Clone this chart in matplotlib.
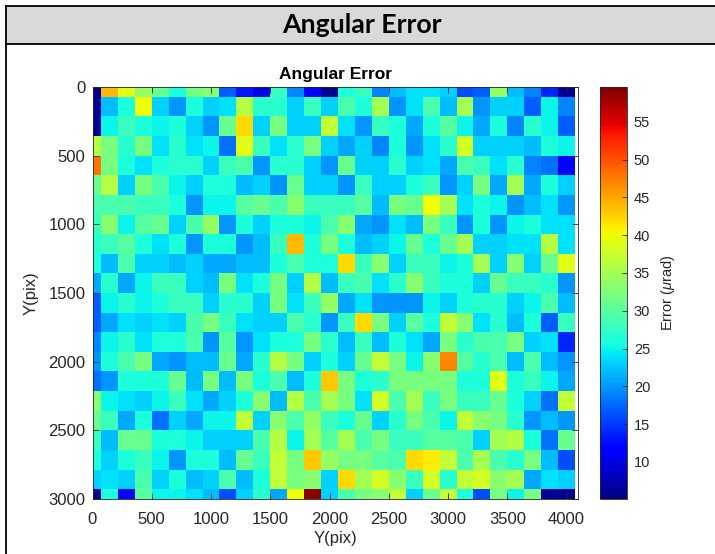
import numpy as np
import matplotlib
matplotlib.use('Agg')
import matplotlib.pyplot as plt
from matplotlib.patches import Rectangle

plt.rcParams['font.family'] = ['Liberation Sans', 'DejaVu Sans']
plt.rcParams['mathtext.fontset'] = 'custom'
plt.rcParams['mathtext.rm'] = 'Liberation Sans'
plt.rcParams['mathtext.it'] = 'Liberation Sans:italic'

# angular error per cell (urad), first row is Y=0 (top of the image)
err = np.array([
    [6, 44, 39, 34, 31, 26, 32, 33, 17, 13, 10, 28, 19, 12, 6, 26, 28, 19, 22, 24, 24, 23, 16, 17, 34, 22, 19, 14, 6],
    [6, 22, 26, 40, 23, 20, 26, 23, 24, 36, 27, 27, 23, 28, 23, 29, 26, 35, 20, 24, 29, 22, 35, 20, 23, 23, 17, 25, 19],
    [6, 25, 28, 26, 25, 26, 23, 20, 31, 42, 23, 32, 23, 23, 37, 24, 20, 28, 26, 21, 26, 30, 25, 21, 26, 19, 27, 25, 17],
    [36, 32, 27, 32, 24, 27, 24, 25, 18, 39, 28, 24, 27, 32, 23, 21, 23, 19, 26, 20, 24, 27, 38, 23, 23, 23, 22, 26, 25],
    [48, 32, 26, 24, 26, 27, 27, 23, 28, 29, 20, 27, 27, 23, 20, 31, 23, 23, 27, 23, 24, 21, 29, 28, 24, 27, 19, 18, 12],
    [31, 36, 23, 32, 29, 25, 23, 26, 26, 22, 23, 20, 31, 23, 23, 20, 28, 23, 23, 26, 28, 20, 23, 32, 21, 35, 21, 26, 23],
    [29, 29, 29, 28, 28, 26, 20, 25, 25, 30, 31, 29, 33, 28, 28, 28, 30, 22, 32, 31, 40, 35, 24, 26, 25, 20, 22, 24, 20],
    [28, 33, 25, 30, 31, 23, 29, 34, 20, 26, 23, 26, 26, 25, 29, 33, 21, 20, 24, 22, 32, 28, 20, 26, 20, 25, 26, 24, 24],
    [27, 28, 30, 26, 24, 26, 20, 26, 26, 20, 22, 28, 44, 26, 32, 26, 22, 23, 25, 31, 26, 31, 35, 23, 23, 24, 24, 36, 24],
    [26, 22, 29, 23, 23, 22, 23, 21, 21, 22, 22, 26, 29, 26, 26, 42, 28, 33, 23, 28, 28, 25, 26, 35, 23, 33, 23, 31, 39],
    [21, 27, 21, 25, 28, 28, 23, 22, 32, 24, 26, 32, 23, 36, 22, 28, 29, 24, 27, 33, 28, 26, 26, 23, 31, 28, 28, 27, 20],
    [17, 25, 27, 25, 26, 28, 28, 23, 27, 27, 23, 32, 24, 28, 34, 21, 24, 20, 20, 20, 25, 23, 26, 27, 27, 23, 25, 29, 22],
    [17, 21, 24, 23, 24, 23, 29, 32, 28, 24, 23, 23, 29, 27, 20, 28, 42, 32, 23, 30, 26, 37, 33, 24, 27, 22, 26, 17, 28],
    [19, 25, 27, 24, 26, 26, 29, 20, 30, 20, 24, 26, 26, 32, 27, 22, 28, 22, 26, 24, 21, 32, 27, 29, 29, 32, 23, 24, 14],
    [20, 26, 29, 32, 21, 20, 22, 22, 31, 21, 27, 36, 32, 23, 26, 23, 31, 37, 32, 25, 33, 47, 30, 27, 29, 22, 29, 22, 20],
    [18, 20, 26, 26, 26, 31, 22, 32, 22, 32, 26, 29, 22, 26, 43, 32, 26, 27, 32, 32, 32, 32, 26, 26, 39, 26, 28, 25, 21],
    [33, 25, 24, 23, 25, 28, 24, 21, 23, 26, 33, 22, 36, 29, 35, 32, 24, 38, 29, 35, 28, 32, 28, 28, 31, 26, 23, 18, 37],
    [31, 28, 21, 26, 18, 23, 21, 25, 25, 37, 23, 33, 29, 34, 28, 26, 31, 23, 27, 32, 29, 25, 37, 33, 32, 27, 20, 22, 20],
    [28, 22, 31, 31, 26, 26, 25, 23, 23, 23, 29, 36, 25, 35, 30, 35, 29, 32, 28, 28, 30, 30, 29, 23, 35, 36, 26, 18, 31],
    [26, 23, 26, 28, 25, 20, 26, 26, 22, 31, 28, 37, 32, 43, 34, 32, 32, 30, 29, 42, 41, 37, 29, 35, 29, 27, 32, 22, 16],
    [23, 24, 23, 29, 23, 26, 22, 23, 29, 22, 26, 37, 32, 33, 23, 42, 35, 38, 33, 28, 38, 27, 37, 38, 33, 35, 21, 24, 23],
    [6, 26, 11, 30, 25, 25, 24, 22, 16, 23, 27, 21, 40, 59, 23, 29, 32, 33, 37, 23, 31, 37, 26, 16, 32, 25, 32, 6, 6],
])
x_pix = np.linspace(0, 4000, 29)
y_pix = np.linspace(0, 3000, 22)
cb_ticks = [10, 15, 20, 25, 30, 35, 40, 45, 50, 55]

W, H = 715, 554
fig = plt.figure(figsize=(W / 100, H / 100), dpi=100)

# table frame around the picture (pixel coords)
bg = fig.add_axes([0, 0, 1, 1])
bg.set_xlim(0, W)
bg.set_ylim(H, 0)
bg.axis('off')
bg.add_patch(Rectangle((5.5, 5.5), W, 38, facecolor='#d9d9d9', edgecolor='none'))
bg.plot([5.5, W], [5.5, 5.5], color='black', lw=1.3)
bg.plot([5.5, W], [43.5, 43.5], color='black', lw=1.3)
bg.plot([5.5, 5.5], [5.5, H], color='black', lw=1.3)
bg.text(362, 25, 'Angular Error', ha='center', va='center', fontsize=19.3,
        fontweight='bold', family=['Lato', 'DejaVu Sans'])

gray = '#262626'
ax = fig.add_axes([92.5 / W, (H - 499) / H, 485.5 / W, 412 / H])
mesh = ax.pcolormesh(x_pix, y_pix, err, cmap='jet', vmin=5.1, vmax=59.6,
                     shading='nearest', edgecolors='none', antialiased=False)
ax.set_xlim(0, 4096)
ax.set_ylim(3000, 0)
ax.set_xticks(np.arange(0, 4001, 500))
ax.set_yticks(np.arange(0, 3001, 500))
ax.tick_params(direction='in', top=True, right=True, length=4, width=0.6,
               color=gray, labelcolor=gray, labelsize=12)
ax.tick_params(axis='x', pad=9.5)
ax.tick_params(axis='y', pad=5)
for s in ax.spines.values():
    s.set_color(gray)
    s.set_linewidth(0.6)
ax.set_title('Angular Error', fontsize=12.5, fontweight='bold', pad=6)
ax.set_xlabel('Y(pix)', fontsize=12, color=gray, labelpad=3)
ax.set_ylabel('Y(pix)', fontsize=12, color=gray, labelpad=7)

cax = fig.add_axes([600 / W, (H - 499) / H, 27 / W, 412 / H])
cb = fig.colorbar(mesh, cax=cax, ticks=cb_ticks)
cb.ax.tick_params(direction='in', length=3.5, width=0.6, color=gray,
                  labelcolor=gray, labelsize=10.5, pad=5)
cb.outline.set_edgecolor(gray)
cb.outline.set_linewidth(0.6)
cb.set_label(r'Error ($\mu$rad)', fontsize=10.5, color=gray, labelpad=6)

fig.savefig('out.png', dpi=100)
